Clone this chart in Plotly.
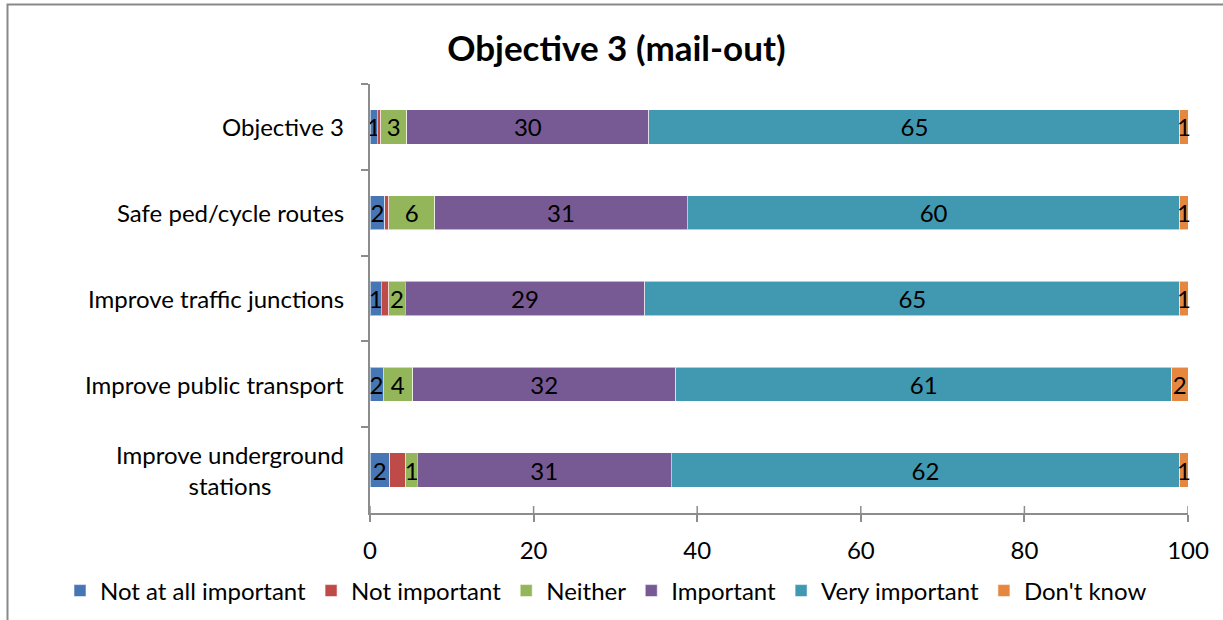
import plotly.graph_objects as go

# Survey responses (%) for each transport objective
categories = [
    "Objective 3",
    "Safe ped/cycle routes",
    "Improve traffic junctions",
    "Improve public transport",
    "Improve underground<br>stations",
]
not_at_all_important = [0.9, 1.8, 1.4, 1.6, 2.4]
not_important = [0.4, 0.5, 0.9, 0.0, 2.0]
neither = [3.2, 5.6, 2.0, 3.6, 1.4]
important = [29.6, 30.9, 29.3, 32.2, 31.0]
very_important = [64.9, 60.2, 65.4, 60.6, 62.2]
dont_know = [1.0, 1.0, 1.0, 2.0, 1.0]

x_ticks = [0, 20, 40, 60, 80, 100]

series = [
    ("Not at all important", not_at_all_important, "#4676B4", True),
    ("Not important", not_important, "#BE4B48", False),
    ("Neither", neither, "#93B65A", True),
    ("Important", important, "#775A94", True),
    ("Very important", very_important, "#4199B1", True),
    ("Don't know", dont_know, "#E6873F", True),
]

FONT = "Lato, 'Open Sans', sans-serif"
AXIS_GREY = "#8C8C8C"
TXT = 24

W, H = 1223, 620
ML, MR, MT, MB = 370, 35, 84, 107
PW, PH = W - ML - MR, H - MT - MB


def px_x(px):
    return (px - ML) / PW


def px_y(py):
    return (H - MB - py) / PH


fig = go.Figure()
for name, vals, color, labelled in series:
    fig.add_trace(go.Bar(
        name=name,
        y=categories,
        x=vals,
        orientation="h",
        marker=dict(color=color, line=dict(color="rgba(255,255,255,0.55)", width=1)),
        text=[f"{v:.0f}" for v in vals] if labelled else None,
        textposition="inside" if labelled else "none",
        insidetextanchor="middle",
        textangle=0,
        constraintext="none",
        insidetextfont=dict(family=FONT, size=TXT, color="#000000"),
        cliponaxis=False,
        hoverinfo="x+name",
    ))

# Category labels, centred on multiple lines like the source
annotations = [
    dict(
        text=c, x=0, xref="paper", xanchor="right", xshift=-24,
        y=c, yref="y", yanchor="middle", align="center", showarrow=False,
        font=dict(family=FONT, size=TXT, color="#000000"),
    )
    for c in categories
]

# Crossing tick marks on the value axis
shapes = [
    dict(type="line", xref="x", yref="paper", x0=t, x1=t,
         y0=0, y1=7 / PH, line=dict(color=AXIS_GREY, width=1.5))
    for t in x_ticks
]
# Outer chart frame
shapes.append(dict(
    type="rect", xref="paper", yref="paper",
    x0=px_x(7.5), x1=px_x(1260), y0=px_y(660), y1=px_y(4.5),
    line=dict(color="#898989", width=2), fillcolor="rgba(0,0,0,0)", layer="below",
))

fig.update_layout(
    width=W, height=H,
    margin=dict(l=ML, r=MR, t=MT, b=MB, autoexpand=False),
    paper_bgcolor="white", plot_bgcolor="white",
    barmode="stack", bargap=0.6,
    uniformtext=dict(minsize=TXT, mode="show"),
    font=dict(family=FONT, size=TXT, color="#000000"),
    title=dict(
        text="<b>Objective 3 (mail-out)</b>",
        font=dict(family=FONT, size=35, color="#000000"),
        x=0.504, xanchor="center", xref="container",
        y=1 - 49 / H, yanchor="middle", yref="container",
    ),
    xaxis=dict(
        range=[0, 100], tickvals=x_ticks, ticktext=[str(t) for t in x_ticks],
        ticks="outside", ticklen=7, tickwidth=1.5, tickcolor=AXIS_GREY,
        showline=True, linecolor=AXIS_GREY, linewidth=2,
        showgrid=False, zeroline=False,
        tickfont=dict(family=FONT, size=TXT, color="#000000"),
        ticklabelstandoff=8,
        fixedrange=True,
    ),
    yaxis=dict(
        autorange="reversed", tickson="boundaries",
        ticks="outside", ticklen=7, tickwidth=1.5, tickcolor=AXIS_GREY,
        showline=True, linecolor=AXIS_GREY, linewidth=2,
        showgrid=False, zeroline=False, showticklabels=False,
        fixedrange=True,
    ),
    legend=dict(
        orientation="h", traceorder="normal",
        xref="paper", x=px_x(60), xanchor="left",
        yref="paper", y=px_y(591), yanchor="middle",
        font=dict(family=FONT, size=TXT, color="#000000"),
        itemwidth=30, bgcolor="rgba(0,0,0,0)",
    ),
    annotations=annotations,
    shapes=shapes,
    showlegend=True,
)

fig.write_html("out.html")
